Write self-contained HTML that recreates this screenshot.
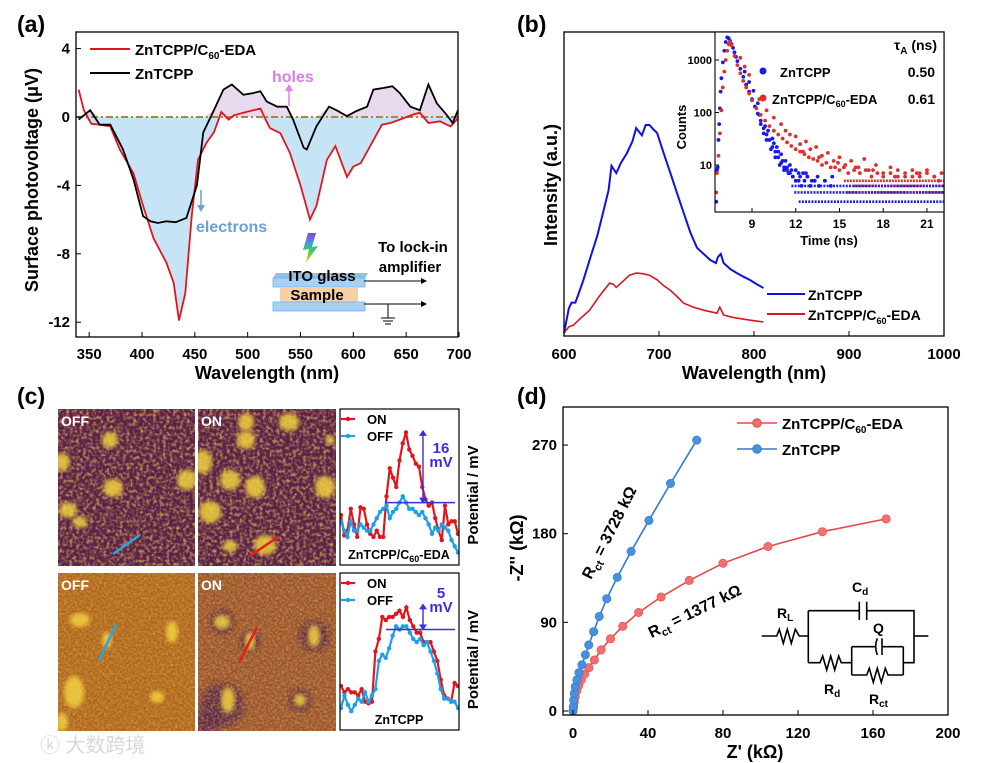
<!DOCTYPE html>
<html><head><meta charset="utf-8">
<style>
html,body{margin:0;padding:0;background:#fff;}
svg{display:block;font-family:"Liberation Sans","Noto Sans CJK SC",sans-serif;font-weight:bold;}
</style></head>
<body>
<svg id="fig" width="981" height="763" viewBox="0 0 981 763" xmlns="http://www.w3.org/2000/svg">
<defs>
<filter id="noiseTop" x="0" y="0" width="100%" height="100%">
<feTurbulence type="fractalNoise" baseFrequency="0.3" numOctaves="2" seed="3"/>
<feColorMatrix values="0 0 0 0 0.78  0 0 0 0 0.46  0 0 0 0 0.1  2.0 0 0 0 -0.85"/>
</filter>
<filter id="noiseBot" x="0" y="0" width="100%" height="100%">
<feTurbulence type="fractalNoise" baseFrequency="0.45" numOctaves="2" seed="7"/>
<feColorMatrix values="0 0 0 0 0.8  0 0 0 0 0.5  0 0 0 0 0.1  1.2 0 0 0 -0.45"/>
</filter>
<filter id="blur2"><feGaussianBlur stdDeviation="2.2"/></filter>
<filter id="blur4"><feGaussianBlur stdDeviation="4"/></filter>
<clipPath id="clipA"><rect x="76" y="32" width="382" height="305"/></clipPath>
<clipPath id="clipI"><rect x="715" y="32" width="229" height="180"/></clipPath>
<clipPath id="c1"><rect x="58" y="409" width="137" height="157"/></clipPath>
<clipPath id="c2"><rect x="198" y="409" width="138" height="157"/></clipPath>
<clipPath id="c3"><rect x="58" y="573" width="137" height="158"/></clipPath>
<clipPath id="c4"><rect x="198" y="573" width="138" height="158"/></clipPath>
<clipPath id="cp1"><rect x="340" y="409" width="119" height="156"/></clipPath>
<clipPath id="cp2"><rect x="340" y="573" width="119" height="157"/></clipPath>
<linearGradient id="rainbow" x1="0" y1="0" x2="0" y2="1"><stop offset="0" stop-color="#8a3fd0"/><stop offset="0.35" stop-color="#3fa0e0"/><stop offset="0.6" stop-color="#3fd04a"/><stop offset="1" stop-color="#f0d020"/></linearGradient>
</defs>

<text x="17" y="32" font-size="23">(a)</text>
<text x="517" y="32" font-size="23">(b)</text>
<text x="17" y="404" font-size="23">(c)</text>
<text x="517" y="404" font-size="23">(d)</text>

<g id="pa"></g>
<g id="pb"></g>
<g id="pc"></g>
<g id="pd"></g>

<text x="40" y="752" font-size="20" fill="#d8d8d8" font-weight="normal">ⓚ 大数跨境</text>
</svg>
<script>
// ---------- Panel (a) data ----------
const aRedX=[340,345,352,360,370,379,392,401,411,423,430,435,441,447,453,461,468,475,482,487,499,512,521,531,540,550,559,565,575,583,594,600,607,616,627,635,644,657,663,671,682,692,698,700];
const aRedY=[1.6,0.4,-0.4,-0.45,-0.55,-1.9,-3.3,-5.2,-7.1,-8.5,-9.7,-11.9,-10.3,-5.8,-2.5,-1.5,-0.9,0.3,-0.15,0.1,0.3,0.5,-0.65,-0.95,-2.1,-4.0,-6.0,-5.2,-2.5,-1.7,-3.5,-2.9,-2.7,-1.7,-0.45,-0.35,-0.15,0.15,0.25,-0.35,-0.25,-0.55,-0.15,0.1];
const aBlkX=[340,351,360,370,382,392,401,408,415,423,432,442,452,458,468,477,485,496,505,512,518,528,537,543,553,556,565,577,584,594,603,613,619,629,637,644,654,663,671,679,688,694,699,700];
const aBlkY=[-0.15,0.4,-0.45,-0.45,-1.9,-3.65,-5.8,-6.1,-6.2,-6.1,-6.15,-5.9,-4.0,-0.9,0.4,1.6,1.9,1.3,1.4,1.5,0.9,0.6,0.6,-0.15,-1.8,-1.9,-0.55,0.6,0.4,0.05,0.35,0.6,1.6,1.7,1.8,1.4,0.6,0.4,1.9,0.8,0.15,-0.35,0.4,0.5];
const aXTicks=[350,400,450,500,550,600,650,700];
const aYTicks=[4,0,-4,-8,-12];
// ---------- Panel (b) data ----------
const bBlueX=[600,601,605,608,612,620,627,635,641,647,650,655,660,666,672,676,682,686,690,694,698,705,712,719,726,733,740,747,754,760,762,765,768,775,782,789,796,803,810];
const bBlueI=[1,2.6,9,11,11,18,25,33,40.5,48,56,53.6,57,60,64,68.4,66,69.4,69.4,68,66.8,60,53.6,47,40.5,34,29,27,25,24,26,27,24,22,20.7,19.5,18.4,17,15.8];
const bRedX=[600,605,610,618,627,637,648,652,655,662,669,676,683,690,698,705,712,719,726,736,747,754,761,764,768,775,782,796,810];
const bRedI=[1,3,3.6,6,8.5,13,17.4,17,16,18,20,20.7,20.5,20,18.5,16.5,15,13,10.8,9.5,8.5,8,7.5,9.5,6.9,6.3,5.9,5.2,4.6];
const bXTicks=[600,700,800,900,1000];
const bLegend=["ZnTCPP","ZnTCPP/C60-EDA"];
// inset decay data
const dBlueT=[6.55,6.6,6.65,6.7,6.75,6.8,6.85,6.9,7.0,7.1,7.2,7.3,7.4,7.5,7.6,7.7,7.8,7.9,8.0,8.2,8.4,8.6,8.8,9.0,9.2,9.4,9.6,9.8,10.0,10.2,10.4,10.6,10.8,11.0,11.2,11.4,11.6,11.8,12.0,12.2,12.4,12.6,12.8,13.0,13.3,13.6,14.0,14.4];
const dBlueC=[2,8,9,30,60,120,250,450,900,1500,2200,2700,2600,2300,2000,1700,1400,1150,950,680,480,340,250,180,130,95,70,50,38,30,22,18,14,11,9,8,7,6,5,7,4,5,6,4,5,4,5,4];
const dBlueT2=[8.5,8.8,9.1,9.4,9.6,9.8,10.0,10.1,10.3,10.4,10.6,10.7,10.9,11.0,11.2,11.3,11.5,11.6,11.8,12.0,12.2,12.5,12.8,13.1,13.5,14.0,14.5,9.5,9.9,10.5,10.8,11.1,11.4,11.7,12.3,12.7,13.3];
const dBlueC2=[600,380,260,150,60,40,30,45,20,32,14,22,10,16,8,12,7,10,6,8,5,7,6,5,6,5,6,90,55,26,18,12,9,8,6,7,5];
const dRedT=[6.55,6.6,6.7,6.8,6.9,7.0,7.1,7.2,7.3,7.4,7.5,7.6,7.8,8.0,8.2,8.4,8.6,8.8,9.0,9.3,9.6,9.9,10.2,10.5,10.8,11.1,11.4,11.7,12.0,12.3,12.6,12.9,13.2,13.5,13.8,14.1,14.4,14.7,15.0,15.3,15.6,16.0,16.4,16.8,17.2,17.6,18.0,18.5,19.0,19.5,20.0,20.5,21.0,21.5];
const dRedC=[3,7,15,40,110,300,600,1000,1500,2000,2200,1900,1200,800,560,400,300,230,170,120,90,70,55,45,38,32,27,23,20,18,16,14,13,12,10,11,9,9,8,9,7,8,7,8,6,7,6,7,6,7,6,6,7,6];
const dRedT2=[8.2,8.5,8.8,9.5,10.0,10.5,11.0,11.3,11.6,12.0,12.3,12.7,13.0,13.4,13.8,14.2,14.6,15.0,15.4,15.8,16.3,16.7,17.0,17.5,18.0,18.5,19.0,19.5,20.0,20.5,21.0,21.5,22.0,12.5,13.6,14.9,16.1,17.3,18.8,20.3,21.8];
const dRedC2=[1100,750,520,180,110,80,60,45,38,35,25,28,20,22,15,17,12,14,10,12,9,13,8,10,7,9,8,6,8,7,8,6,7,18,14,11,9,8,6,7,5];
const floorLevelsBlue=[2,3,4];
const floorStartBlue=[12.2,11.9,11.7];
const floorLevelsRed=[3,4,5];
const floorStartRed=[15.5,16.0,15.3];
const floorEnd=22.3;
const iXTicks=[9,12,15,18,21];
const iYTicks=[1000,100,10];
// ---------- Panel (c) line profiles ----------
const cTopOn=[16,9.5,11,18,13,9,18.5,18,13,10,9,11,9,9,22,31,28,25,33.5,39,42.5,37,35,32.5,31.5,25,21,19,20,15,11,8,19,13,14,14,10];
const cTopOff=[14,11,9,14,11,11,13,12,11,11,13,15,17,18,19,15,17,18,20,22,20,18,18,17,16,17,15,13,10,12,11,13,12,11,8,6,4];
const cBotOn=[14,12,13,12,12,11,13,9,8.5,9,25,29,36,35,36,36,37,38,36,39,35,33,31,31,28,28,28,25,22,16,11,10,9,15,14];
const cBotOff=[7,11,8,6,8,10,9,12,9,11,13,22,24,23,26,30,33,32,33,33,31,29,28,29,27,28,25,22,18,13,10,10,9,9,7];
// ---------- Panel (d) data ----------
const dZreBlue=[0,0.2,0.35,0.7,1.2,2.1,3.2,4.8,6.6,8.4,11,14,18,23.6,31,40.5,52,66];
const dZimBlue=[0,4.4,11,18,24.7,31.5,39,47,57,67,80.5,96,114,135.7,162,193.5,231,275];
const dZreRed=[0,0.35,0.7,1.2,2,3,4.4,6.2,8.5,11.4,15,20,26.5,35,47,62,80,104,133,167];
const dZimRed=[0,4.4,9.5,14.5,20.3,25.7,31.5,37.5,44,51.8,62,73.4,86,100,115.7,132.6,150,167,182,195];
const dXTicks=[0,40,80,120,160,200];
const dYTicks=[0,90,180,270];

const NS="http://www.w3.org/2000/svg";
function mk(parent,tag,attrs,txt){const e=document.createElementNS(NS,tag);for(const k in attrs)e.setAttribute(k,attrs[k]);if(txt!==undefined)e.textContent=txt;parent.appendChild(e);return e;}
function pts(xs,ys,fx,fy){return xs.map((x,i)=>fx(x).toFixed(1)+","+fy(ys[i]).toFixed(1)).join(" ");}

// ===== Panel A =====
(function(){
const g=document.getElementById('pa');
const xa=nm=>142+(nm-400)*1.0567, ya=v=>117-v*17.1;
const cg=mk(g,'g',{'clip-path':'url(#clipA)'});
let p=aRedX.map((x,i)=>xa(x).toFixed(1)+","+ya(Math.min(aRedY[i],0)).toFixed(1));
let f=mk(cg,'polygon',{points:xa(aRedX[0])+","+ya(0)+" "+p.join(" ")+" "+xa(aRedX[aRedX.length-1])+","+ya(0),fill:'#c7e4f7'});


p=aBlkX.map((x,i)=>xa(x).toFixed(1)+","+ya(Math.max(aBlkY[i],0)).toFixed(1));
f=mk(cg,'polygon',{points:xa(aBlkX[0])+","+ya(0)+" "+p.join(" ")+" "+xa(aBlkX[aBlkX.length-1])+","+ya(0),fill:'#e8daee'});


let z=mk(cg,'line',{x1:76,x2:458,y1:ya(0),y2:ya(0),stroke:'#a8893a','stroke-width':2,'stroke-dasharray':'7 3 2 3'});


let l=mk(cg,'polyline',{points:pts(aRedX,aRedY,xa,ya),fill:'none',stroke:'#e0161c','stroke-width':1.8});


l=mk(cg,'polyline',{points:pts(aBlkX,aBlkY,xa,ya),fill:'none',stroke:'#000','stroke-width':1.8});


mk(g,'rect',{x:76,y:32,width:382,height:305,fill:'none',stroke:'#000','stroke-width':1.3});
aXTicks.forEach(t=>{mk(g,'line',{x1:xa(t),x2:xa(t),y1:337,y2:332,stroke:'#000'});
 const e=mk(g,'text',{x:xa(t),y:359,'font-size':15,'text-anchor':'middle'},t);
 });
aYTicks.forEach(t=>{mk(g,'line',{x1:76,x2:81,y1:ya(t),y2:ya(t),stroke:'#000'});
 const e=mk(g,'text',{x:70,y:ya(t)+5,'font-size':15,'text-anchor':'end'},t);
 });
let t=mk(g,'text',{x:267,y:379,'font-size':18,'text-anchor':'middle'},'Wavelength (nm)');

t=mk(g,'text',{x:0,y:0,'font-size':18,'text-anchor':'middle',transform:'translate(38,180) rotate(-90)'},'Surface photovoltage (μV)');

mk(g,'line',{x1:90,x2:130,y1:49,y2:49,stroke:'#e0161c','stroke-width':2});
t=mk(g,'text',{x:135,y:55,'font-size':15});t.innerHTML='ZnTCPP/C<tspan font-size="10" dy="4">60</tspan><tspan dy="-4">-EDA</tspan>';

mk(g,'line',{x1:90,x2:130,y1:73,y2:73,stroke:'#000','stroke-width':2});
t=mk(g,'text',{x:135,y:79,'font-size':15},'ZnTCPP');

mk(g,'text',{x:272,y:82,'font-size':16,fill:'#d87fe2'},'holes');
mk(g,'line',{x1:289,x2:289,y1:106,y2:90,stroke:'#e07fe6','stroke-width':1.5});
mk(g,'polygon',{points:'285,91 293,91 289,84',fill:'#e07fe6'});
mk(g,'text',{x:196,y:232,'font-size':16,fill:'#6fa0d2'},'electrons');
mk(g,'line',{x1:201,x2:201,y1:190,y2:206,stroke:'#6fa0d2','stroke-width':1.5});
mk(g,'polygon',{points:'197,205 205,205 201,212',fill:'#6fa0d2'});
mk(g,'polygon',{points:'308,233 316,233 312,247 318,246 306,263 309,249 303,250',fill:'url(#rainbow)'});
mk(g,'polygon',{points:'273,278 365,278 368,273 276,273',fill:'#8fc0ea'});
mk(g,'rect',{x:273,y:278,width:92,height:9,fill:'#a8d0f2',stroke:'#7ab0e0','stroke-width':0.8});
mk(g,'rect',{x:280,y:287,width:78,height:15,fill:'#f7cfa5'});
mk(g,'rect',{x:273,y:302,width:92,height:9,fill:'#a8d0f2',stroke:'#7ab0e0','stroke-width':0.8});
mk(g,'text',{x:322,y:281,'font-size':15,'text-anchor':'middle'},'ITO glass');
mk(g,'text',{x:317,y:300,'font-size':15,'text-anchor':'middle'},'Sample');
mk(g,'text',{x:413,y:252,'font-size':15,'text-anchor':'middle'},'To lock-in');
mk(g,'text',{x:410,y:272,'font-size':15,'text-anchor':'middle'},'amplifier');
mk(g,'line',{x1:364,x2:422,y1:281,y2:281,stroke:'#000'});
mk(g,'polygon',{points:'421,278 427,281 421,284',fill:'#000'});
mk(g,'line',{x1:364,x2:422,y1:304,y2:304,stroke:'#000'});
mk(g,'polygon',{points:'421,301 427,304 421,307',fill:'#000'});
mk(g,'line',{x1:388,x2:388,y1:304,y2:318,stroke:'#000'});
mk(g,'line',{x1:381,x2:395,y1:318,y2:318,stroke:'#000'});
mk(g,'line',{x1:383,x2:393,y1:321,y2:321,stroke:'#000'});
mk(g,'line',{x1:385,x2:391,y1:324,y2:324,stroke:'#000'});
})();

// ===== Panel B =====
(function(){
const g=document.getElementById('pb');
const xb=nm=>564+(nm-600)*0.95, yb=I=>336-I*3.04;
let l=mk(g,'polyline',{points:pts(bBlueX,bBlueI,xb,yb),fill:'none',stroke:'#1010e6','stroke-width':2});

l=mk(g,'polyline',{points:pts(bRedX,bRedI,xb,yb),fill:'none',stroke:'#d2191f','stroke-width':1.6});

mk(g,'rect',{x:564,y:32,width:380,height:304,fill:'none',stroke:'#000','stroke-width':1.3});
bXTicks.forEach(t=>{mk(g,'line',{x1:xb(t),x2:xb(t),y1:336,y2:331,stroke:'#000'});
 const e=mk(g,'text',{x:xb(t),y:359,'font-size':15,'text-anchor':'middle'},t);
 });
let t=mk(g,'text',{x:754,y:379,'font-size':18,'text-anchor':'middle'},'Wavelength (nm)');

t=mk(g,'text',{x:0,y:0,'font-size':18,'text-anchor':'middle',transform:'translate(557,185) rotate(-90)'},'Intensity (a.u.)');

mk(g,'line',{x1:767,x2:805,y1:294,y2:294,stroke:'#1010e6','stroke-width':2});
t=mk(g,'text',{x:808,y:300,'font-size':14},bLegend[0]);
mk(g,'line',{x1:767,x2:805,y1:314,y2:314,stroke:'#d2191f','stroke-width':2});
t=mk(g,'text',{x:808,y:320,'font-size':14});t.innerHTML='ZnTCPP/C<tspan font-size="9" dy="4">60</tspan><tspan dy="-4">-EDA</tspan>';

const xi=tt=>752+(tt-9)*14.58, yi=c=>165-(Math.log10(c)-1)*52.5;
mk(g,'rect',{x:715,y:32,width:229,height:180,fill:'#fff'});
const ig=mk(g,'g',{'clip-path':'url(#clipI)'});

floorLevelsRed.forEach((c,i)=>{const e=mk(ig,'line',{x1:xi(floorStartRed[i]),x2:xi(floorEnd),y1:yi(c),y2:yi(c),stroke:'#e0302c','stroke-width':2.6,'stroke-dasharray':'2 1'});
 });
floorLevelsBlue.forEach((c,i)=>{const e=mk(ig,'line',{x1:xi(floorStartBlue[i]),x2:xi(floorEnd),y1:yi(c),y2:yi(c),stroke:'#2020e0','stroke-width':2.6,'stroke-dasharray':'2 1.2'});
 });
[[dRedT2,dRedC2,'#e0302c','red'],[dBlueT2,dBlueC2,'#1a1ae8','blue'],[dBlueT,dBlueC,'#1a1ae8','blue'],[dRedT,dRedC,'#e0302c','red']].forEach(([T,Cs,col,nm])=>{
 T.forEach((tt,i)=>{const e=mk(ig,'circle',{cx:xi(tt),cy:yi(Cs[i]),r:1.9,fill:col});
  });
});
mk(g,'rect',{x:715,y:32,width:229,height:180,fill:'none',stroke:'#000','stroke-width':1.1});
iXTicks.forEach(tt=>{mk(g,'line',{x1:xi(tt),x2:xi(tt),y1:212,y2:208,stroke:'#000'});
 const e=mk(g,'text',{x:xi(tt),y:228,'font-size':12,'text-anchor':'middle'},tt);
 });
iYTicks.forEach(c=>{mk(g,'line',{x1:715,x2:719,y1:yi(c),y2:yi(c),stroke:'#000'});
 const e=mk(g,'text',{x:712,y:yi(c)+4,'font-size':11,'text-anchor':'end'},c);
 });
mk(g,'text',{x:829,y:245,'font-size':13,'text-anchor':'middle'},'Time (ns)');
mk(g,'text',{x:0,y:0,'font-size':13,'text-anchor':'middle',transform:'translate(686,127) rotate(-90)'},'Counts');
mk(g,'text',{x:937,y:50,'font-size':14,'text-anchor':'end'}).innerHTML='τ<tspan font-size="10" dy="4">A</tspan><tspan dy="-4"> (ns)</tspan>';
mk(g,'circle',{cx:763,cy:71,r:3.5,fill:'#1a1ae8'});
mk(g,'text',{x:780,y:77,'font-size':13},'ZnTCPP');
mk(g,'text',{x:935,y:77,'font-size':14,'text-anchor':'end'},'0.50');
mk(g,'circle',{cx:763,cy:98,r:3.5,fill:'#e0302c'});
mk(g,'text',{x:772,y:104,'font-size':13}).innerHTML='ZnTCPP/C<tspan font-size="9" dy="3">60</tspan><tspan dy="-3">-EDA</tspan>';
mk(g,'text',{x:935,y:104,'font-size':14,'text-anchor':'end'},'0.61');
})();

// ===== Panel C =====
(function(){
const g=document.getElementById('pc');
const imgs=[
 {x:58,y:409,w:137,h:157,clip:'c1',base:'#5a2248',flt:'noiseTop',blobs:[[110,440,8,8],[62,462,8,9],[113,488,10,9],[187,480,10,10],[68,510,9,8],[80,522,7,6]],dark:[],label:'OFF',line:[113,554,140,535,'#2aa7e0']},
 {x:198,y:409,w:138,h:157,clip:'c2',base:'#5a2248',flt:'noiseTop',blobs:[[246,422,8,9],[246,440,9,9],[289,422,10,9],[203,462,9,12],[230,480,10,10],[255,487,10,11],[325,487,10,11],[210,512,11,11],[265,545,11,10],[230,546,7,6],[330,440,5,5]],dark:[],label:'ON',line:[250,556,278,537,'#e81c1c']},
 {x:58,y:573,w:137,h:158,clip:'c3',base:'#b0661e',flt:'noiseBot',blobs:[[80,620,10,7],[172,632,6,11],[107,640,5,8],[74,692,10,16],[62,722,6,9],[157,697,7,6]],dark:[],label:'OFF',line:[99,661,116,624,'#2aa7e0']},
 {x:198,y:573,w:138,h:158,clip:'c4',base:'#9a5430',flt:'noiseBot',blobs:[[222,622,8,7],[314,636,6,11],[250,641,5,9],[228,700,7,13],[300,700,6,6]],dark:[[314,636,15],[222,705,22],[222,622,12],[300,700,11],[250,641,10],[205,725,14]],label:'ON',line:[239,663,257,627,'#e81c1c']}
];
imgs.forEach((im,k)=>{
 const ig=mk(g,'g',{'clip-path':'url(#'+im.clip+')'});
 
 
 mk(ig,'rect',{x:im.x,y:im.y,width:im.w,height:im.h,fill:im.base});
 im.dark.forEach(b=>mk(ig,'circle',{cx:b[0],cy:b[1],r:b[2],fill:'#4a1a50',opacity:0.7,filter:'url(#blur4)'}));
 mk(ig,'rect',{x:im.x,y:im.y,width:im.w,height:im.h,filter:'url(#'+im.flt+')'});
 im.blobs.forEach(b=>mk(ig,'ellipse',{cx:b[0],cy:b[1],rx:b[2],ry:b[3],fill:'#f2d040',opacity:0.85,filter:'url(#blur2)'}));
 const L=im.line;mk(ig,'line',{x1:L[0],y1:L[1],x2:L[2],y2:L[3],stroke:L[4],'stroke-width':2.5});
 const t=mk(g,'text',{x:im.x+3,y:im.y+17,'font-size':14,fill:'#fff'},im.label);
 
});
function prof(y0,h,on,off,clip,lineV,arrTop,label,annot){
 const n=on.length, xp=i=>341+i*(117/(n-1));
 const yv=v=>y0+h-(v)*(h/50);
 const pg=mk(g,'g',{'clip-path':'url(#'+clip+')'});
 
 [[on,'#e0161c'],[off,'#1ea0e8']].forEach(([arr,c])=>{
  mk(pg,'polyline',{points:arr.map((v,i)=>xp(i).toFixed(1)+","+yv(v).toFixed(1)).join(" "),fill:'none',stroke:c,'stroke-width':2.2});
  arr.forEach((v,i)=>{const e=mk(pg,'circle',{cx:xp(i),cy:yv(v),r:2.2,fill:c});
   });
 });
 mk(g,'line',{x1:386,x2:455,y1:yv(lineV),y2:yv(lineV),stroke:'#3a2ee0','stroke-width':1.5});
 mk(g,'line',{x1:423,x2:423,y1:yv(arrTop)+4,y2:yv(lineV)-4,stroke:'#3a2ee0','stroke-width':1.4});
 mk(g,'polygon',{points:`419,${yv(arrTop)+5} 427,${yv(arrTop)+5} 423,${yv(arrTop)-1}`,fill:'#3a2ee0'});
 mk(g,'polygon',{points:`419,${yv(lineV)-5} 427,${yv(lineV)-5} 423,${yv(lineV)+1}`,fill:'#3a2ee0'});
 mk(g,'rect',{x:340,y:y0,width:119,height:h,fill:'none',stroke:'#000','stroke-width':1.2});
 mk(g,'line',{x1:341,x2:355,y1:y0+10,y2:y0+10,stroke:'#e0161c','stroke-width':2.2});
 mk(g,'circle',{cx:348,cy:y0+10,r:2.2,fill:'#e0161c'});
 mk(g,'text',{x:367,y:y0+15,'font-size':13},'ON');
 mk(g,'line',{x1:341,x2:355,y1:y0+27,y2:y0+27,stroke:'#1ea0e8','stroke-width':2.2});
 mk(g,'circle',{cx:348,cy:y0+27,r:2.2,fill:'#1ea0e8'});
 mk(g,'text',{x:367,y:y0+32,'font-size':13},'OFF');
 mk(g,'text',{x:441,y:annot[0],'font-size':15,'text-anchor':'middle',fill:'#3a2ee0'},annot[1]);
 mk(g,'text',{x:441,y:annot[0]+14,'font-size':15,'text-anchor':'middle',fill:'#3a2ee0'},'mV');
 const lt=mk(g,'text',{x:399,y:y0+h-6,'font-size':12.5,'text-anchor':'middle'});lt.innerHTML=label;
 const yt=mk(g,'text',{x:0,y:0,'font-size':15,'text-anchor':'middle',transform:`translate(478,${y0+h/2+8}) rotate(-90)`},'Potential / mV');
 
}
prof(409,156,cTopOn,cTopOff,'cp1',20,43,'ZnTCPP/C<tspan font-size="9" dy="3">60</tspan><tspan dy="-3">-EDA</tspan>',[453,'16']);
prof(573,157,cBotOn,cBotOff,'cp2',32,40,'ZnTCPP',[598,'5']);
})();

// ===== Panel D =====
(function(){
const g=document.getElementById('pd');
const xd=k=>573+k*1.875, yd=k=>711-k*0.985;
[[dZreRed,dZimRed,'#e84848','#f07070','red'],[dZreBlue,dZimBlue,'#2c7cd0','#4a90e0','blue']].forEach(([xs,ys,c,fc,nm])=>{
 const l=mk(g,'polyline',{points:pts(xs,ys,xd,yd),fill:'none',stroke:c,'stroke-width':1.6});
 
 xs.forEach((x,i)=>{const e=mk(g,'circle',{cx:xd(x),cy:yd(ys[i]),r:4.2,fill:fc,stroke:c,'stroke-width':0.6});
  });
});
mk(g,'rect',{x:563,y:407,width:385,height:308,fill:'none',stroke:'#000','stroke-width':1.3});
dXTicks.forEach(t=>{mk(g,'line',{x1:xd(t),x2:xd(t),y1:715,y2:710,stroke:'#000'});
 const e=mk(g,'text',{x:xd(t),y:738,'font-size':15,'text-anchor':'middle'},t);
 });
dYTicks.forEach(t=>{mk(g,'line',{x1:563,x2:568,y1:yd(t),y2:yd(t),stroke:'#000'});
 const e=mk(g,'text',{x:557,y:yd(t)+5,'font-size':15,'text-anchor':'end'},t);
 });
let t=mk(g,'text',{x:755,y:758,'font-size':18,'text-anchor':'middle'},"Z' (kΩ)");

t=mk(g,'text',{x:0,y:0,'font-size':18,'text-anchor':'middle',transform:'translate(523,548) rotate(-90)'},"-Z'' (kΩ)");

mk(g,'line',{x1:737,x2:777,y1:423,y2:423,stroke:'#e84848','stroke-width':1.6});
mk(g,'circle',{cx:757,cy:423,r:4.2,fill:'#f07070',stroke:'#e84848'});
mk(g,'text',{x:782,y:429,'font-size':15}).innerHTML='ZnTCPP/C<tspan font-size="10" dy="4">60</tspan><tspan dy="-4">-EDA</tspan>';
mk(g,'line',{x1:737,x2:777,y1:449,y2:449,stroke:'#2c7cd0','stroke-width':1.6});
mk(g,'circle',{cx:757,cy:449,r:4.2,fill:'#4a90e0',stroke:'#2c7cd0'});
mk(g,'text',{x:782,y:455,'font-size':15},'ZnTCPP');
mk(g,'text',{x:0,y:0,'font-size':16,'text-anchor':'middle',transform:'translate(614,535) rotate(-63)'}).innerHTML='R<tspan font-size="11" dy="4">ct</tspan><tspan dy="-4"> = 3728 kΩ</tspan>';
mk(g,'text',{x:0,y:0,'font-size':16,'text-anchor':'middle',transform:'translate(697,616) rotate(-26)'}).innerHTML='R<tspan font-size="11" dy="4">ct</tspan><tspan dy="-4"> = 1377 kΩ</tspan>';
const C=mk(g,'g',{fill:'none',stroke:'#000','stroke-width':1.6});

const P=(x,y)=>(490+x/3).toFixed(1)+","+(380+y/3).toFixed(1);
mk(C,'polyline',{points:[P(815,768),P(860,768),P(868,748),P(880,790),P(892,748),P(904,790),P(916,748),P(928,768),P(955,768)].join(" ")});
mk(C,'polyline',{points:[P(955,692),P(955,848)].join(" ")});
mk(C,'polyline',{points:[P(955,692),P(1108,692)].join(" ")});
mk(C,'polyline',{points:[P(1130,692),P(1272,692),P(1272,848),P(1240,848)].join(" ")});
mk(C,'polyline',{points:[P(1108,665),P(1108,720)].join(" ")});
mk(C,'polyline',{points:[P(1130,665),P(1130,720)].join(" ")});
mk(C,'polyline',{points:[P(955,848),P(990,848),P(998,828),P(1010,870),P(1022,828),P(1034,870),P(1046,828),P(1054,848),P(1085,848)].join(" ")});
mk(C,'polyline',{points:[P(1085,800),P(1085,885)].join(" ")});
mk(C,'polyline',{points:[P(1240,800),P(1240,885)].join(" ")});
mk(C,'polyline',{points:[P(1085,800),P(1158,800)].join(" ")});
mk(C,'polyline',{points:[P(1176,800),P(1240,800)].join(" ")});
mk(C,'path',{d:`M${P(1162,775)} Q${P(1152,800)} ${P(1162,825)}`});
mk(C,'polyline',{points:[P(1176,775),P(1176,825)].join(" ")});
mk(C,'polyline',{points:[P(1085,885),P(1130,885),P(1138,865),P(1150,907),P(1162,865),P(1174,907),P(1186,865),P(1194,885),P(1240,885)].join(" ")});
mk(C,'polyline',{points:[P(1272,768),P(1315,768)].join(" ")});
mk(g,'text',{x:777,y:618,'font-size':14}).innerHTML='R<tspan font-size="10" dy="3">L</tspan>';
mk(g,'text',{x:852,y:592,'font-size':14}).innerHTML='C<tspan font-size="10" dy="3">d</tspan>';
mk(g,'text',{x:873,y:633,'font-size':14},'Q');
mk(g,'text',{x:824,y:694,'font-size':14}).innerHTML='R<tspan font-size="10" dy="3">d</tspan>';
mk(g,'text',{x:869,y:704,'font-size':14}).innerHTML='R<tspan font-size="10" dy="3">ct</tspan>';
})();
</script>
</body></html>
